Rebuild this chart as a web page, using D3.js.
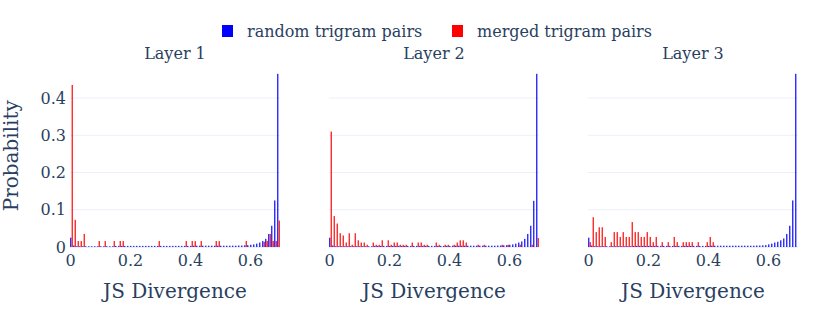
<!DOCTYPE html>
<html>
<head>
<meta charset="utf-8">
<script src="https://cdn.jsdelivr.net/npm/d3@7"></script>
<style>
  body { margin: 0; background: #fff; }
  text { font-family: "DejaVu Serif", serif; fill: #2a3f5f; }
</style>
</head>
<body>
<div id="canvas"></div>
<script>
// histogram bins: 0.00 .. 0.69, width 0.01
const binStarts = [0,0.01,0.02,0.03,0.04,0.05,0.06,0.07,0.08,0.09,
  0.1,0.11,0.12,0.13,0.14,0.15,0.16,0.17,0.18,0.19,
  0.2,0.21,0.22,0.23,0.24,0.25,0.26,0.27,0.28,0.29,
  0.3,0.31,0.32,0.33,0.34,0.35,0.36,0.37,0.38,0.39,
  0.4,0.41,0.42,0.43,0.44,0.45,0.46,0.47,0.48,0.49,
  0.5,0.51,0.52,0.53,0.54,0.55,0.56,0.57,0.58,0.59,
  0.6,0.61,0.62,0.63,0.64,0.65,0.66,0.67,0.68,0.69]
const binWidth = 0.01

const layers = ["Layer 1", "Layer 2", "Layer 3"]
const seriesNames = ["random trigram pairs", "merged trigram pairs"]
const seriesColors = ["#0000ff", "#ff0000"]

// probability per bin
const random1 = [0.025,0.004,0.002,0.002,0.002,0.002,0.002,0.002,0.002,0.002,
  0.002,0.002,0.002,0.002,0.002,0.003,0.003,0.003,0.003,0.003,
  0.003,0.003,0.003,0.003,0.003,0.003,0.003,0.003,0.003,0.003,
  0.003,0.003,0.003,0.003,0.003,0.003,0.003,0.003,0.003,0.003,
  0.003,0.0035,0.0035,0.0035,0.0035,0.0035,0.0035,0.0035,0.0035,0.0035,
  0.0035,0.0035,0.0035,0.0035,0.0035,0.0035,0.004,0.004,0.0045,0.005,
  0.006,0.007,0.009,0.012,0.016,0.022,0.035,0.057,0.125,0.465]
const merged1 = [0.435,0.073,0.016,0.016,0.035,0,0,0,0,0.016,
  0,0.016,0,0,0.016,0,0.016,0.016,0,0,
  0,0,0,0,0,0,0,0,0,0.016,
  0,0,0,0,0,0,0,0,0.016,0,
  0.016,0.016,0,0.016,0,0,0,0,0.016,0.016,
  0,0,0,0,0,0,0,0,0.016,0,
  0,0,0,0,0.014,0.016,0.035,0.016,0.016,0.071]

const random2 = [0.025,0.004,0.002,0.002,0.002,0.002,0.002,0.002,0.002,0.002,
  0.002,0.002,0.002,0.002,0.002,0.003,0.003,0.003,0.003,0.003,
  0.003,0.003,0.003,0.003,0.003,0.003,0.003,0.003,0.003,0.003,
  0.003,0.003,0.003,0.003,0.003,0.003,0.003,0.003,0.003,0.003,
  0.003,0.0035,0.0035,0.0035,0.0035,0.0035,0.0035,0.0035,0.0035,0.0035,
  0.0035,0.0035,0.0035,0.0035,0.0035,0.0035,0.004,0.004,0.0045,0.005,
  0.006,0.007,0.009,0.012,0.015,0.022,0.035,0.057,0.124,0.465]
const merged2 = [0.31,0.083,0.063,0.037,0.031,0.012,0.037,0.006,0.037,0.018,
  0.012,0.012,0.006,0,0.012,0.006,0.006,0.018,0,0.018,
  0.006,0.012,0.012,0.006,0.006,0.006,0,0.012,0,0.012,
  0.012,0.006,0.006,0,0,0.012,0.006,0,0.006,0.006,
  0,0.006,0.012,0.018,0.018,0.012,0,0,0,0.006,
  0,0.006,0,0,0,0,0,0.006,0,0.006,
  0,0,0,0.006,0,0,0,0.006,0,0.024]

const random3 = [0.025,0.004,0.002,0.002,0.002,0.002,0.002,0.002,0.002,0.002,
  0.002,0.002,0.002,0.002,0.002,0.003,0.003,0.003,0.003,0.003,
  0.003,0.003,0.003,0.003,0.003,0.003,0.003,0.003,0.003,0.003,
  0.003,0.003,0.003,0.003,0.003,0.003,0.003,0.003,0.003,0.003,
  0.003,0.0035,0.0035,0.0035,0.0035,0.0035,0.0035,0.0035,0.0035,0.0035,
  0.0035,0.0035,0.0035,0.0035,0.0035,0.0035,0.004,0.004,0.0045,0.005,
  0.007,0.009,0.012,0.014,0.018,0.023,0.035,0.057,0.125,0.465]
const merged3 = [0.013,0.08,0.04,0.053,0.053,0.027,0,0.013,0.04,0.04,
  0.027,0.04,0.027,0.027,0.067,0.04,0.04,0.027,0.027,0.04,
  0.027,0.013,0.027,0,0.013,0,0.013,0,0.027,0.013,
  0,0.013,0.013,0.013,0.013,0,0.013,0,0,0.013,
  0.027,0.013,0,0,0,0,0,0,0,0,
  0,0,0,0,0,0,0,0,0,0,
  0,0,0,0,0,0,0,0,0,0]

const xTicks = [0, 0.2, 0.4, 0.6]
const yTicks = [0, 0.1, 0.2, 0.3, 0.4]

window.onload = function (){setup()}

function setup(){

  const width = 830
  const height = 311
  const panelLeft = [70, 329, 588]
  const panelWidth = 210
  const plotTop = 64.5
  const plotBottom = 247

  let svg = d3.select("#canvas")
    .append("svg")
    .attr("width", width)
    .attr("height", height)

  const y = d3.scaleLinear()
    .domain([0, 0.49])
    .range([plotBottom, plotTop])

  const panels = [
    {title: layers[0], series: [random1, merged1]},
    {title: layers[1], series: [random2, merged2]},
    {title: layers[2], series: [random3, merged3]}
  ]

  panels.forEach((p, k) => {
    let x = d3.scaleLinear()
      .domain([0, 0.7])
      .range([panelLeft[k], panelLeft[k] + panelWidth])

    let g = svg.append("g")

    // grid
    g.selectAll("line.grid")
      .data(yTicks.filter(t => t > 0))
      .join("line")
      .attr("x1", x.range()[0])
      .attr("x2", x.range()[1])
      .attr("y1", d => y(d))
      .attr("y2", d => y(d))
      .attr("stroke", "#EBF0F8")
      .attr("stroke-width", 1)

    g.append("line")
      .attr("x1", x.range()[0])
      .attr("x2", x.range()[1])
      .attr("y1", y(0))
      .attr("y2", y(0))
      .attr("stroke", "#EBF0F8")
      .attr("stroke-width", 2)

    // grouped bars, bargap 0
    const sub = d3.scaleBand()
      .domain([0, 1])
      .range([0, x(binWidth) - x(0)])

    p.series.forEach((vals, s) => {
      g.append("g")
        .selectAll("rect")
        .data(vals.map((v, i) => ({x0: binStarts[i], v: v})).filter(d => d.v > 0))
        .join("rect")
        .attr("x", d => x(d.x0) + sub(s) + 0.1)
        .attr("y", d => y(d.v))
        .attr("width", sub.bandwidth() - 0.2)
        .attr("height", d => y(0) - y(d.v))
        .attr("fill", seriesColors[s])
        .attr("fill-opacity", 0.9)
    })

    // x axis labels
    let xAxis = g.append("g")
      .attr("transform", `translate(0,${plotBottom})`)
      .call(d3.axisBottom(x).tickValues(xTicks).tickSize(0).tickPadding(0)
        .tickFormat(d => d === 0 ? "0" : d3.format(".1f")(d)))
    xAxis.select(".domain").remove()
    xAxis.selectAll("text")
      .attr("y", 19)
      .attr("dy", 0)
      .style("font-size", "16px")
      .style("font-family", "'DejaVu Serif', serif")
      .attr("fill", "#2a3f5f")

    if (k === 0){
      let yAxis = g.append("g")
        .attr("transform", `translate(${x.range()[0] - 4},0)`)
        .call(d3.axisLeft(y).tickValues(yTicks).tickSize(0).tickPadding(0)
          .tickFormat(d => d === 0 ? "0" : d3.format(".1f")(d)))
      yAxis.select(".domain").remove()
      yAxis.selectAll("text")
        .style("font-size", "16px")
        .style("font-family", "'DejaVu Serif', serif")
        .attr("fill", "#2a3f5f")
    }

    g.append("text")
      .attr("x", x(0.35))
      .attr("y", 59)
      .attr("text-anchor", "middle")
      .style("font-size", "16px")
      .text(p.title)

    g.append("text")
      .attr("x", x(0.35))
      .attr("y", 298)
      .attr("text-anchor", "middle")
      .style("font-size", "20px")
      .text("JS Divergence")
  })

  svg.append("text")
    .attr("transform", `translate(18,${(plotTop + plotBottom) / 2}) rotate(-90)`)
    .attr("text-anchor", "middle")
    .style("font-size", "20px")
    .text("Probability")

  // legend
  const legendX = [222, 452]
  seriesNames.forEach((name, s) => {
    svg.append("rect")
      .attr("x", legendX[s])
      .attr("y", 25)
      .attr("width", 11)
      .attr("height", 12)
      .attr("fill", seriesColors[s])
    svg.append("text")
      .attr("x", legendX[s] + 25)
      .attr("y", 37)
      .style("font-size", "16px")
      .text(name)
  })
}
</script>
</body>
</html>
